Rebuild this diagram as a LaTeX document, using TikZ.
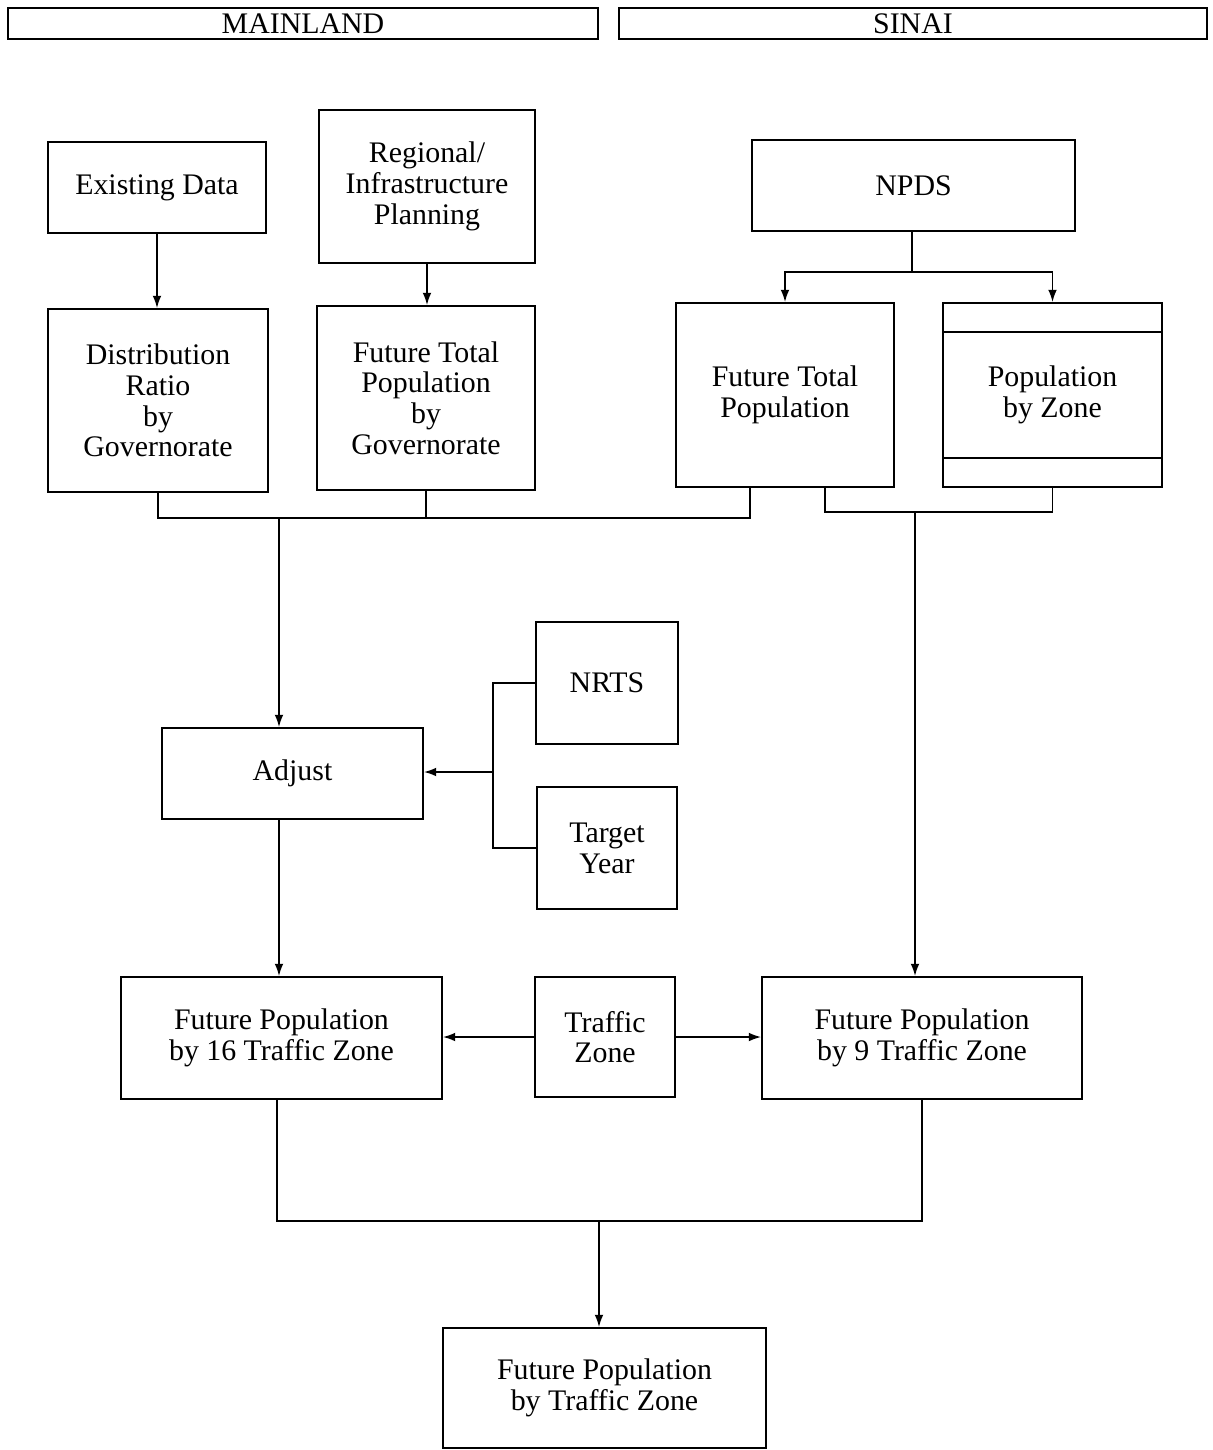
\documentclass[tikz,border=0pt]{standalone}
\usepackage{fontspec}
\setmainfont{Liberation Serif}
\usetikzlibrary{arrows.meta, calc, positioning}
\tikzset{
    box/.style={draw, line width=1.1pt, align=center, inner sep=2pt,
                font=\fontsize{17}{17.5}\selectfont},
    head/.style={draw, line width=0.8pt, inner sep=0pt,
                 minimum height=0.62cm, font=\fontsize{17}{17}\selectfont},
    link/.style={line width=0.9pt},
    arr/.style={link, -{Latex[length=7pt, width=5pt]}},
}

\begin{document}
\begin{tikzpicture}[x=0.02cm, y=-0.02cm]
\useasboundingbox (0,0) rectangle (1213,1450);

% region headers
\node[head, minimum width=11.8cm]  (mainland) at (303,23.5) {MAINLAND};
\node[head, minimum width=11.76cm] (sinai)    at (913,23.5) {SINAI};

% mainland inputs
\node[box, minimum width=4.36cm, minimum height=1.82cm] (exist) at (157,187.5) {Existing Data};
\node[box, minimum width=4.32cm, minimum height=3.06cm] (regio) at (427,186.5) {Regional/\\Infrastructure\\Planning};
\node[box, minimum width=4.4cm, minimum height=3.66cm] (distr) at (158,400.5) {Distribution\\Ratio\\by\\Governorate};
\node[box, minimum width=4.36cm, minimum height=3.68cm] (ftpg) at (426,398) {Future Total\\Population\\by\\Governorate};

% sinai inputs
\node[box, minimum width=6.46cm, minimum height=1.82cm] (npds) at (913.5,185.5) {NPDS};
\node[box, minimum width=4.36cm, minimum height=3.68cm] (ftp) at (785,395) {Future Total\\Population};
\node[box, minimum width=4.38cm, minimum height=3.68cm] (pbz) at (1052.5,395) {Population\\by Zone};
\draw[line width=1.1pt] ([yshift=-0.6cm]pbz.north west) -- ([yshift=-0.6cm]pbz.north east);
\draw[line width=1.1pt] ([yshift=0.6cm]pbz.south west) -- ([yshift=0.6cm]pbz.south east);

% adjustment
\node[box, minimum width=2.84cm, minimum height=2.44cm] (nrts) at (607,683) {NRTS};
\node[box, minimum width=2.8cm, minimum height=2.44cm] (target) at (607,848) {Target\\Year};
\node[box, minimum width=5.22cm, minimum height=1.82cm] (adjust) at (292.5,773.5) {Adjust};

% traffic zones
\node[box, minimum width=6.42cm, minimum height=2.44cm] (fp16) at (281.5,1038) {Future Population\\by 16 Traffic Zone};
\node[box, minimum width=2.8cm, minimum height=2.4cm] (tz) at (605,1037) {Traffic\\Zone};
\node[box, minimum width=6.4cm, minimum height=2.44cm] (fp9) at (922,1038) {Future Population\\by 9 Traffic Zone};
\node[box, minimum width=6.46cm, minimum height=2.4cm] (final) at (604.5,1388) {Future Population\\by Traffic Zone};

\coordinate (npj) at (912,272);
\coordinate (mj) at (279,518);
\coordinate (sj) at (915,512);
\coordinate (nt) at (493,772);
\coordinate (bj) at (599,1221);

\draw[arr] (exist.south) -- (exist.south |- distr.north);
\draw[arr] (regio.south) -- (regio.south |- ftpg.north);

% NPDS splits
\draw[link] (npds.south -| npj) -- (npj);
\draw[arr] (npj) -| (ftp.north);
\draw[arr] (npj) -| (pbz.north);

% mainland merge
\draw[link] (distr.south) |- (mj) -| ([xshift=-0.7cm]ftp.south);
\draw[link] (ftpg.south) -- (ftpg.south |- mj);
\draw[arr] (mj) -- (mj |- adjust.north);

% sinai merge
\draw[link] ([xshift=0.8cm]ftp.south) |- (sj) -| (pbz.south);
\draw[arr] (sj) -- (sj |- fp9.north);

% NRTS and target year into adjust
\draw[link] (nrts.west) -| (nt) |- (target.west);
\draw[arr] (nt) -- (nt -| adjust.east);
\draw[arr] (mj |- adjust.south) -- (mj |- fp16.north);

\draw[arr] (tz.west) -- (tz.west -| fp16.east);
\draw[arr] (tz.east) -- (tz.east -| fp9.west);

% final merge
\draw[link] ([xshift=-0.09cm]fp16.south) |- (bj) -| (fp9.south);
\draw[arr] (bj) -- (bj |- final.north);

\end{tikzpicture}
\end{document}
